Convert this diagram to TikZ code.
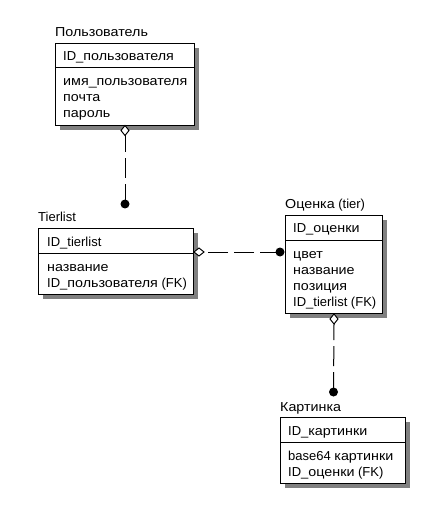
\documentclass[tikz,border=0pt]{standalone}
\usepackage{fontspec}
\setmainfont{Liberation Sans}
\newfontfamily\cy{Liberation Sans}[FakeStretch=1.1]
\usetikzlibrary{shadows,calc}
\begin{document}
\begin{tikzpicture}[x=1pt,y=-1pt,
  ent/.style={draw=black, line width=1pt, fill=white, anchor=north west, inner sep=0pt,
    drop shadow={shadow xshift=4.5pt, shadow yshift=-4.5pt, fill=black!50, opacity=1}},
  txt/.style={anchor=base west, inner sep=0pt, font=\fontsize{13}{16}\selectfont},
  rel/.style={line width=1pt, dash pattern=on 20pt off 6pt},
  dia/.style={draw=black, line width=1pt, fill=white},
  dotc/.style={fill=black}]
\useasboundingbox (0,0) rectangle (440,518);
% Boxes
\node[ent, minimum width=139pt, minimum height=82pt] (u) at (55,43) {};
\node[ent, minimum width=155pt, minimum height=66pt] (t) at (38,228) {};
\node[ent, minimum width=97pt, minimum height=98pt] (o) at (285,215) {};
\node[ent, minimum width=125pt, minimum height=66pt] (k) at (280,417) {};
% separators
\draw[line width=1pt] ($(u.north west)+(0,25)$) -- ($(u.north east)+(0,25)$);
\draw[line width=1pt] ($(t.north west)+(0,25)$) -- ($(t.north east)+(0,25)$);
\draw[line width=1pt] ($(o.north west)+(0,25)$) -- ($(o.north east)+(0,25)$);
\draw[line width=1pt] ($(k.north west)+(0,25)$) -- ($(k.north east)+(0,25)$);
% texts box 1
\node[txt] (ut) at (55,37) {\cy Пользователь};
\node[txt] (u1) at (63,61) {ID\_{\cy пользователя}};
\node[txt] (u2) at (63,86) {\cy имя\_пользователя};
\node[txt] (u3) at (63,102) {\cy почта};
\node[txt] (u4) at (63,118) {\cy пароль};
% box 2
\node[txt] (tt) at (38,222) {Tierlist};
\node[txt] (t1) at (47,246) {ID\_tierlist};
\node[txt] (t2) at (47,271) {\cy название};
\node[txt] (t3) at (47,287) {ID\_{\cy пользователя} (FK)};
% box 3
\node[txt] (ot) at (285,209) {{\cy Оценка} (tier)};
\node[txt] (o1) at (293,233) {ID\_{\cy оценки}};
\node[txt] (o2) at (293,258) {\cy цвет};
\node[txt] (o3) at (293,274) {\cy название};
\node[txt] (o4) at (293,290) {\cy позиция};
\node[txt] (o5) at (293,306) {ID\_tierlist (FK)};
% box 4
\node[txt] (kt) at (280,411) {\cy Картинка};
\node[txt] (k1) at (288,435) {ID\_{\cy картинки}};
\node[txt] (k2) at (288,460) {base64 {\cy картинки}};
\node[txt] (k3) at (288,476) {ID\_{\cy оценки} (FK)};
% connector 1
\coordinate (d1) at (125,204);
\coordinate (c1a) at (125,125.5);
\coordinate (c1b) at ($(c1a)+(0,10)$);
\draw[rel] (d1) -- (c1b);
\draw[dia] (c1a) -- ++(4,5) -- ++(-4,5) -- ++(-4,-5) -- cycle;
\fill[dotc] (d1) circle (4.5);
% connector 2
\coordinate (d2) at (280,252);
\coordinate (c2a) at (t.east |- d2);
\coordinate (c2b) at ($(c2a)+(10,0)$);
\draw[rel] (d2) -- (c2b);
\draw[dia] (c2a) -- ++(5,-4) -- ++(5,4) -- ++(-5,4) -- cycle;
\fill[dotc] (d2) circle (4.5);
% connector 3
\coordinate (d3) at (333.5,392);
\coordinate (c3a) at (o.south);
\coordinate (c3b) at ($(c3a)+(0,10)$);
\draw[rel] (d3) -- (c3b);
\draw[dia] (c3a) -- ++(4,5) -- ++(-4,5) -- ++(-4,-5) -- cycle;
\fill[dotc] (d3) circle (4.5);
\end{tikzpicture}
\end{document}
